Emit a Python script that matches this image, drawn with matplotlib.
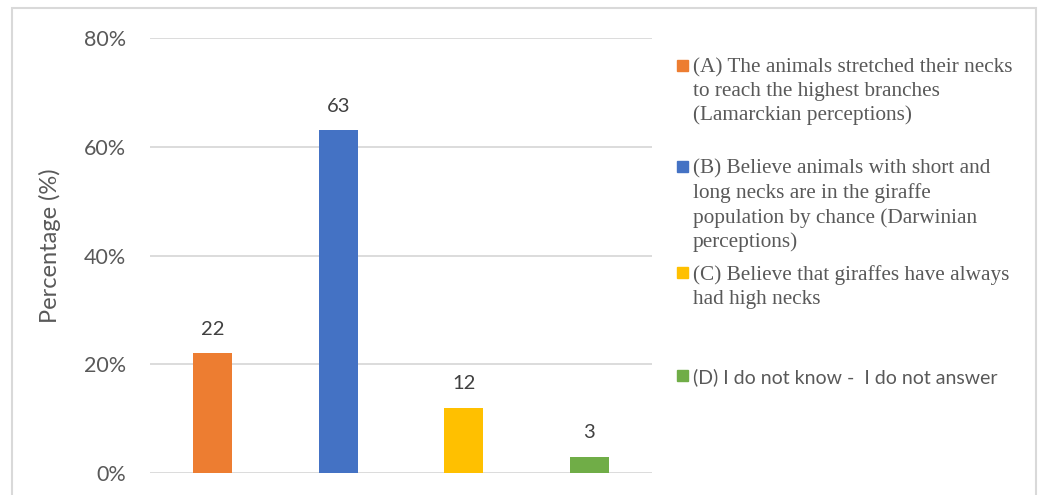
import matplotlib
matplotlib.use("Agg")
import matplotlib.pyplot as plt
from matplotlib.patches import Rectangle

# survey answers about giraffe neck evolution
categories = ["A", "B", "C", "D"]
values = [22, 63, 12, 3]
colors = ["#ED7D31", "#4472C4", "#FFC000", "#70AD47"]
legend_labels = [
    "(A) The animals stretched their necks\nto reach the highest branches\n(Lamarckian perceptions)",
    "(B) Believe animals with short and\nlong necks are in the giraffe\npopulation by chance (Darwinian\nperceptions)",
    "(C) Believe that giraffes have always\nhad high necks",
    "(D) I do not know -  I do not answer",
]
legend_fonts = ["Liberation Serif", "Liberation Serif", "Liberation Serif", "Lato"]
legend_sizes = [15.3, 15.3, 15.3, 14]
yticks = [0, 20, 40, 60, 80]

W, H = 1040, 495
fig = plt.figure(figsize=(W / 100, H / 100), dpi=100)
grey = "#595959"

# thin frame around the chart area
fig.patches.append(Rectangle((12 / W, -0.1), (1036 - 12) / W, 1.1 - 8 / H,
                             transform=fig.transFigure, fill=False,
                             edgecolor="#d9d9d9", lw=1.5))

ax = fig.add_axes([150 / W, 1 - 473 / H, 502 / W, (473 - 38) / H])
x = range(len(values))
bars = ax.bar(x, values, width=0.31, color=colors, zorder=3)
for b, v in zip(bars, values):
    ax.annotate(str(v), (b.get_x() + b.get_width() / 2, v), xytext=(0, 11),
                textcoords="offset points", ha="center", va="bottom",
                fontsize=14.5, color="#404040", family="Lato")

ax.set_xlim(-0.5, len(values) - 0.5)
ax.set_ylim(0, 80)
ax.set_yticks(yticks)
ax.set_yticklabels([f"{t}%" for t in yticks], fontsize=15.5, color=grey, family="Lato")
ax.tick_params(axis="y", length=0, pad=17)
ax.set_xticks([])
for s in ax.spines.values():
    s.set_visible(False)
ax.grid(axis="y", color="#d9d9d9", lw=1.3, zorder=0)
fig.text(50 / W, 1 - 246 / H, "Percentage (%)", rotation=90, fontsize=17,
         color=grey, family="Lato", ha="center", va="center")

# legend drawn by hand so each entry can keep its own font
first_baselines = [72, 173, 279, 382]
for lab, col, base, fam, fs in zip(legend_labels, colors, first_baselines, legend_fonts, legend_sizes):
    fig.patches.append(Rectangle((677 / W, 1 - (base - 1) / H), 11 / W, 11 / H,
                                 transform=fig.transFigure, color=col))
    fig.text(693 / W, 1 - (base - 14) / H, lab, fontsize=fs, color=grey,
             family=fam, va="top", ha="left", linespacing=1.33)

fig.savefig("out.png", dpi=100)
